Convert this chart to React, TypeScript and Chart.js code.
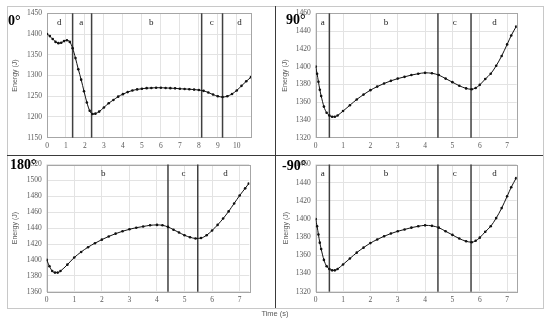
import React, { useEffect, useRef } from "react";
import { Chart, registerables } from "chart.js";
Chart.register(...registerables);

// ---- data ----
const time0 = [0, 0.15, 0.3, 0.45, 0.6, 0.75, 0.9, 1.05, 1.2, 1.35, 1.5, 1.65, 1.8, 1.95, 2.1, 2.25, 2.4, 2.55, 2.75, 3.0, 3.25, 3.5, 3.75, 4.0, 4.25, 4.5, 4.75, 5.0, 5.25, 5.5, 5.75, 6.0, 6.25, 6.5, 6.75, 7.0, 7.25, 7.5, 7.75, 8.0, 8.25, 8.5, 8.75, 9.0, 9.25, 9.5, 9.75, 10.0, 10.25, 10.5, 10.75];
const energy0 = [1400, 1395, 1388, 1381, 1378, 1379, 1383, 1385, 1381, 1366, 1342, 1315, 1290, 1262, 1235, 1215, 1207, 1208, 1213, 1223, 1233, 1241, 1249, 1255, 1260, 1264, 1266.5, 1268, 1269.5, 1270, 1270.5, 1270.5, 1270, 1269.5, 1269, 1268, 1267.5, 1267, 1266, 1265, 1263, 1259, 1254, 1250, 1248, 1250, 1255.5, 1264, 1275, 1286, 1296];

const time90 = [0, 0.05, 0.1, 0.15, 0.2, 0.3, 0.4, 0.5, 0.6, 0.7, 0.8, 1.0, 1.25, 1.5, 1.75, 2.0, 2.25, 2.5, 2.75, 3.0, 3.25, 3.5, 3.75, 4.0, 4.25, 4.5, 4.75, 5.0, 5.25, 5.5, 5.7, 5.85, 6.0, 6.2, 6.4, 6.6, 6.8, 7.0, 7.15, 7.33];
const energy90 = [1400, 1392, 1383, 1374, 1367, 1355, 1348, 1345, 1343.5, 1343.5, 1345, 1350, 1356.5, 1363, 1368.5, 1373.5, 1377.5, 1381, 1384, 1386.5, 1388.5, 1390.5, 1392, 1393, 1392.5, 1390.5, 1386.5, 1382.5, 1378.5, 1375.5, 1374.5, 1376, 1379.5, 1386, 1392, 1401, 1412, 1425, 1435, 1445];

const time180 = [0, 0.1, 0.2, 0.3, 0.4, 0.5, 0.75, 1.0, 1.25, 1.5, 1.75, 2.0, 2.25, 2.5, 2.75, 3.0, 3.25, 3.5, 3.75, 4.0, 4.2, 4.4, 4.6, 4.8, 5.0, 5.2, 5.4, 5.6, 5.8, 6.0, 6.2, 6.4, 6.6, 6.8, 7.0, 7.2, 7.33];
const energy180 = [1400, 1392, 1386, 1384, 1384, 1386, 1394, 1403, 1410, 1416, 1421, 1425.5, 1429.5, 1433, 1436, 1438.5, 1440.5, 1442, 1443.5, 1444, 1443.5, 1441.5, 1438, 1434.5, 1431, 1428.5, 1427, 1427.5, 1431, 1437, 1444, 1452, 1461, 1471, 1481, 1490, 1496];

const timeM90 = [0, 0.05, 0.1, 0.15, 0.2, 0.3, 0.4, 0.5, 0.6, 0.7, 0.8, 1.0, 1.25, 1.5, 1.75, 2.0, 2.25, 2.5, 2.75, 3.0, 3.25, 3.5, 3.75, 4.0, 4.25, 4.5, 4.75, 5.0, 5.25, 5.5, 5.7, 5.85, 6.0, 6.2, 6.4, 6.6, 6.8, 7.0, 7.15, 7.33];
const energyM90 = [1400, 1392, 1383, 1374, 1367, 1355, 1348, 1345, 1343.5, 1343.5, 1345, 1350, 1356.5, 1363, 1368.5, 1373.5, 1377.5, 1381, 1384, 1386.5, 1388.5, 1390.5, 1392, 1393, 1392.5, 1390.5, 1386.5, 1382.5, 1378.5, 1375.5, 1374.5, 1376, 1379.5, 1386, 1392, 1401, 1412, 1425, 1435, 1445];

// phase boundaries (s) and phase labels
const dividers0 = [1.35, 2.35, 8.15, 9.25];
const phases0 = ["d", "a", "b", "c", "d"];
const phaseAt0 = [0.65, 1.8, 5.5, 8.68, 10.15];

const dividers90 = [0.5, 4.47, 5.68];
const phases90 = ["a", "b", "c", "d"];
const phaseAt90 = [0.26, 2.57, 5.08, 6.54];

const dividers180 = [4.4, 5.48];
const phases180 = ["b", "c", "d"];
const phaseAt180 = [2.05, 4.96, 6.49];

const dividersM90 = [0.5, 4.47, 5.68];
const phasesM90 = ["a", "b", "c", "d"];
const phaseAtM90 = [0.26, 2.57, 5.08, 6.54];

const titles = ["0°", "90°", "180°", "-90°"];
const yTitle = "Energy (J)";
const xTitle = "Time (s)";

const SERIF = "'Liberation Serif', 'Times New Roman', serif";
const SANS = "'Liberation Sans', Arial, sans-serif";

type Panel = {
  title: string; t: number[]; e: number[];
  yMin: number; yMax: number; yStep: number; xMax: number;
  dividers: number[]; phases: string[]; phaseAt: number[];
  left: number; top: number; w: number; h: number;
  pad: { left: number; right: number; top: number; bottom: number };
  yW: number; xH: number; titlePad: number;
  tLeft: number; tTop: number;
};

const panels: Panel[] = [
  { title: titles[0], t: time0, e: energy0, yMin: 1150, yMax: 1450, yStep: 50, xMax: 10.75,
    dividers: dividers0, phases: phases0, phaseAt: phaseAt0,
    left: 0, top: 0, w: 275, h: 155, pad: { left: 0, right: 24, top: 13.3, bottom: 0 }, yW: 47, xH: 17.3, titlePad: 10.8,
    tLeft: 8, tTop: 13 },
  { title: titles[1], t: time90, e: energy90, yMin: 1320, yMax: 1460, yStep: 20, xMax: 7.35,
    dividers: dividers90, phases: phases90, phaseAt: phaseAt90,
    left: 275, top: 0, w: 275, h: 155, pad: { left: 0, right: 33.3, top: 13.3, bottom: 0 }, yW: 40.7, xH: 17.3, titlePad: 5.8,
    tLeft: 286, tTop: 12 },
  { title: titles[2], t: time180, e: energy180, yMin: 1360, yMax: 1520, yStep: 20, xMax: 7.35,
    dividers: dividers180, phases: phases180, phaseAt: phaseAt180,
    left: 0, top: 155, w: 275, h: 168, pad: { left: 0, right: 25.7, top: 6.7, bottom: 0 }, yW: 46.7, xH: 31.3, titlePad: 10.8,
    tLeft: 10, tTop: 157 },
  { title: titles[3], t: timeM90, e: energyM90, yMin: 1320, yMax: 1460, yStep: 20, xMax: 7.35,
    dividers: dividersM90, phases: phasesM90, phaseAt: phaseAtM90,
    left: 275, top: 155, w: 275, h: 168, pad: { left: 0, right: 33.3, top: 6.7, bottom: 0 }, yW: 40.7, xH: 31.3, titlePad: 6.8,
    tLeft: 282, tTop: 158 },
];

const phasePlugin = {
  id: "phases",
  beforeDatasetsDraw(chart: any, _a: any, opts: any) {
    const { ctx, chartArea: ca, scales } = chart;
    const xs = scales.x;
    ctx.save();
    // plot-area outline
    ctx.strokeStyle = "#a6a6a6";
    ctx.lineWidth = 1;
    ctx.strokeRect(Math.round(ca.left) + 0.5, Math.round(ca.top) + 0.5, Math.round(ca.right - ca.left), Math.round(ca.bottom - ca.top));
    // dividers
    ctx.strokeStyle = "#404040";
    ctx.lineWidth = 1.5;
    (opts.dividers as number[]).forEach((d) => {
      const px = xs.getPixelForValue(d);
      ctx.beginPath();
      ctx.moveTo(px, ca.top);
      ctx.lineTo(px, ca.bottom);
      ctx.stroke();
    });
    // labels
    ctx.fillStyle = "#222";
    ctx.font = `9px ${SERIF}`;
    ctx.textAlign = "center";
    ctx.textBaseline = "middle";
    (opts.phases as string[]).forEach((p, i) => {
      ctx.fillText(p, xs.getPixelForValue(opts.phaseAt[i]), ca.top + 9.5);
    });
    ctx.restore();
  },
};

function PanelChart({ p }: { p: Panel }) {
  const ref = useRef<HTMLCanvasElement | null>(null);
  useEffect(() => {
    if (!ref.current) return;
    const data = p.t.map((t, i) => ({ x: t, y: p.e[i] }));
    const chart = new Chart(ref.current, {
      type: "scatter",
      data: {
        datasets: [{
          data,
          showLine: true,
          borderColor: "#111",
          borderWidth: 1,
          backgroundColor: "#111",
          pointRadius: 1.3,
          pointBorderWidth: 0,
          pointHoverRadius: 1.3,
          tension: 0.4,
          cubicInterpolationMode: "monotone",
        }],
      },
      options: {
        animation: false,
        responsive: false,
        events: [],
        layout: { padding: p.pad },
        plugins: {
          legend: { display: false },
          tooltip: { enabled: false },
          phases: { dividers: p.dividers, phases: p.phases, phaseAt: p.phaseAt },
        } as any,
        scales: {
          x: {
            type: "linear",
            min: 0,
            max: p.xMax,
            border: { display: false },
            grid: { color: "#e3e3e3", drawTicks: false, lineWidth: 1 },
            ticks: { stepSize: 1, includeBounds: false, padding: 4, color: "#595959", font: { family: SERIF, size: 7.5 }, callback: (v: any) => String(v) },
            afterFit: (s: any) => { s.height = p.xH; },
          },
          y: {
            type: "linear",
            min: p.yMin,
            max: p.yMax,
            border: { display: false },
            grid: { color: "#e3e3e3", drawTicks: false, lineWidth: 1 },
            ticks: { stepSize: p.yStep, padding: 5, color: "#595959", font: { family: SERIF, size: 7.5 }, callback: (v: any) => String(v) },
            title: { display: true, text: yTitle, color: "#595959", font: { family: SANS, size: 7 }, padding: { top: p.titlePad, bottom: 0 } },
            afterFit: (s: any) => { s.width = p.yW; },
          },
        },
      },
      plugins: [phasePlugin],
    } as any);
    return () => chart.destroy();
  }, [p]);
  return (
    <canvas
      ref={ref}
      width={p.w}
      height={p.h}
      style={{ position: "absolute", left: p.left, top: p.top, width: p.w, height: p.h }}
    />
  );
}

export default function App() {
  return (
    <div style={{ position: "fixed", left: 0, top: 0, width: 550, height: 323, background: "#fff", overflow: "hidden" }}>
      {/* frame */}
      <div style={{ position: "absolute", left: 7, top: 6, width: 535, height: 301, border: "1px solid #c8c8c8" }} />
      <div style={{ position: "absolute", left: 274.5, top: 6, width: 1.5, height: 302, background: "#3a3a3a" }} />
      <div style={{ position: "absolute", left: 7, top: 154.5, width: 536, height: 1.5, background: "#3a3a3a" }} />
      {panels.map((p, i) => (
        <PanelChart key={i} p={p} />
      ))}
      {panels.map((p, i) => (
        <div key={"t" + i} style={{ position: "absolute", left: p.tLeft, top: p.tTop, fontFamily: SERIF, fontWeight: "bold", fontSize: 14, lineHeight: "16px", color: "#000", whiteSpace: "nowrap" }}>
          {p.title}
        </div>
      ))}
      <div style={{ position: "absolute", left: 0, width: 550, top: 309, textAlign: "center", fontFamily: SANS, fontSize: 7.5, lineHeight: "9px", color: "#595959" }}>
        {xTitle}
      </div>
    </div>
  );
}
